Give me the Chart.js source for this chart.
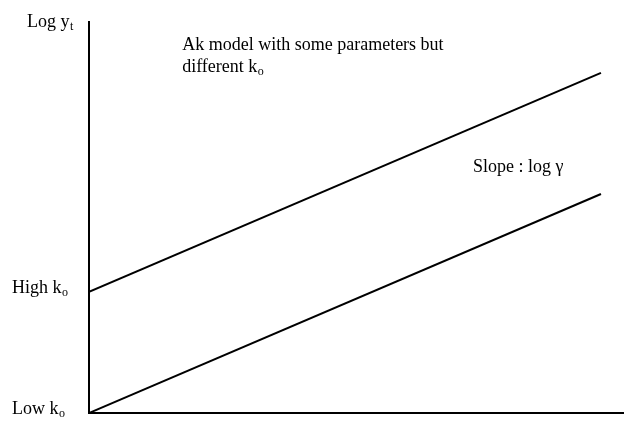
<!DOCTYPE html>
<html>
<head>
<meta charset="utf-8">
<title>Ak model</title>
<script src="https://cdn.jsdelivr.net/npm/chart.js@4.4.0/dist/chart.umd.min.js"></script>
<style>
    html, body { margin: 0; padding: 0; background: #fff; }
    canvas { display: block; }
</style>
</head>
<body>
<canvas id="akChart" width="624" height="428"></canvas>
<script>
// ==========================
// Data
// ==========================
const timeValues = [0, 10];
const highK0 = [3.1, 8.7];
const lowK0 = [0, 5.6];
const yTickValues = [0, 3.1];
const yTickLabels = ['Low k', 'High k'];
const yTickSubs = ['o', 'o'];

// ==========================
// Text helpers
// ==========================
const FONT = "'Liberation Serif', 'Times New Roman', serif";

// draws "main" with a small lowered "sub" after it
function drawSub(ctx, main, sub, x, y) {
    ctx.font = '18px ' + FONT;
    ctx.fillText(main, x, y);
    const w = ctx.measureText(main).width;
    if (sub) {
        ctx.font = '12px ' + FONT;
        ctx.fillText(sub, x + w + 0.5, y + 3);
    }
}

// ==========================
// Labels plugin
// ==========================
const labelPlugin = {
    id: 'labels',
    afterDraw(chart) {
        const ctx = chart.ctx;
        const xs = chart.scales.x;
        const ys = chart.scales.y;
        ctx.save();
        ctx.fillStyle = '#000';
        ctx.textBaseline = 'alphabetic';
        ctx.textAlign = 'left';

        // y tick labels
        yTickValues.forEach((v, i) => {
            drawSub(ctx, yTickLabels[i], yTickSubs[i], 12, ys.getPixelForValue(v) + 1);
        });

        // axis title
        drawSub(ctx, 'Log y', 't', 27, ys.top + 5);

        // annotations
        const ax = xs.getPixelForValue(1.82);
        const ay = ys.top + 28;
        drawSub(ctx, 'Ak model with some parameters but', '', ax, ay);
        drawSub(ctx, 'different k', 'o', ax, ay + 22);

        drawSub(ctx, 'Slope : log \u03B3', '', xs.getPixelForValue(7.5), ys.getPixelForValue(6.16));
        ctx.restore();
    }
};

// ==========================
// Chart
// ==========================
const lineStyle = {
    borderColor: '#000',
    borderWidth: 2,
    pointRadius: 0,
    fill: false,
    tension: 0
};

new Chart(document.getElementById('akChart').getContext('2d'), {
    type: 'line',
    data: {
        datasets: [
            Object.assign({ label: 'High k0', data: timeValues.map((t, i) => ({ x: t, y: highK0[i] })) }, lineStyle),
            Object.assign({ label: 'Low k0', data: timeValues.map((t, i) => ({ x: t, y: lowK0[i] })) }, lineStyle)
        ]
    },
    options: {
        responsive: false,
        animation: false,
        devicePixelRatio: 1,
        layout: { padding: { left: 89, top: 22, right: 0, bottom: 15 } },
        plugins: { legend: { display: false }, tooltip: { enabled: false } },
        scales: {
            x: {
                type: 'linear',
                min: 0,
                max: 10.45,
                grid: { display: false, drawTicks: false },
                ticks: { display: false },
                border: { display: true, color: '#000', width: 2 }
            },
            y: {
                min: 0,
                max: 10,
                grid: { display: false, drawTicks: false },
                ticks: { display: false },
                border: { display: true, color: '#000', width: 2 }
            }
        }
    },
    plugins: [labelPlugin]
});
</script>
</body>
</html>
